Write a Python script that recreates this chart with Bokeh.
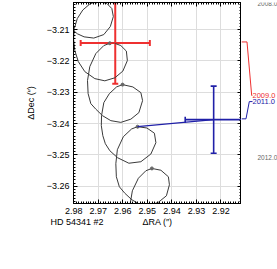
from bokeh.plotting import figure
from bokeh.layouts import row, column
from bokeh.models import (Range1d, LinearAxis, SingleIntervalTicker, CustomJSTickFormatter,
                          Whisker, ColumnDataSource, TeeHead)
from bokeh.core.properties import value
from bokeh.embed import file_html
from bokeh.resources import INLINE

# ---- data (arcsec) ----
track_ra = [2.98531, 2.98490, 2.98347, 2.98122, 2.97849, 2.97580, 2.97184, 2.96776, 2.96510, 2.96388,
            2.96449, 2.96653, 2.96898, 2.97102,
            2.97347, 2.97633, 2.97857, 2.97980, 2.98008, 2.97959, 2.97816, 2.97551, 2.97143, 2.96735,
            2.96327, 2.96000, 2.95816, 2.95857, 2.96082, 2.96327, 2.96531,
            2.96776, 2.97102, 2.97347, 2.97441, 2.97416, 2.97306, 2.97102, 2.96829, 2.96490, 2.96082,
            2.95673, 2.95347, 2.95196, 2.95265, 2.95592, 2.96012,
            2.96257, 2.96551, 2.96776, 2.96869, 2.96878, 2.96816, 2.96714, 2.96531, 2.96216, 2.95755,
            2.95265, 2.94857, 2.94653, 2.94714, 2.95020, 2.95400,
            2.95645, 2.95980, 2.96224, 2.96286, 2.96265, 2.96143, 2.95918, 2.95633, 2.95306, 2.94939,
            2.94551, 2.94224, 2.94102, 2.94143, 2.94449, 2.94816,
            2.95061, 2.95367, 2.95612, 2.95694, 2.95694]
track_dec = [-3.20074, -3.20393, -3.20712, -3.20968, -3.21137, -3.21233, -3.21272, -3.21160, -3.20904, -3.20585,
             -3.20329, -3.20169, -3.20115, -3.20112,
             -3.20185, -3.20377, -3.20649, -3.20968, -3.21304, -3.21671, -3.22022, -3.22342, -3.22566, -3.22636,
             -3.22540, -3.22326, -3.21990, -3.21687, -3.21511, -3.21441, -3.21438,
             -3.21511, -3.21767, -3.22182, -3.22629, -3.23045, -3.23364, -3.23540, -3.23748, -3.23907, -3.23962,
             -3.23859, -3.23652, -3.23268, -3.23013, -3.22831, -3.22757,
             -3.22831, -3.23045, -3.23332, -3.23748, -3.24067, -3.24387, -3.24642, -3.24866, -3.25089, -3.25265,
             -3.25217, -3.24971, -3.24610, -3.24307, -3.24141, -3.24099,
             -3.24173, -3.24419, -3.24834, -3.25281, -3.25697, -3.26016, -3.26224, -3.26431, -3.26575, -3.26623,
             -3.26511, -3.26304, -3.25952, -3.25697, -3.25489, -3.25431,
             -3.25505, -3.25744, -3.26144, -3.26527, -3.26847]

epoch_names = ["2008.0", "2009.0", "2010.0", "2011.0", "2012.0"]
epoch_ra = [2.97102, 2.96531, 2.96012, 2.95400, 2.94816]
epoch_dec = [-3.20112, -3.21438, -3.22757, -3.24099, -3.25431]

obs_names = ["2009.0", "2011.0"]
obs_ra = [2.9631, 2.92298]
obs_dec = [-3.2143, -3.23875]
obs_ra_err = [0.0141, 0.0116]
obs_dec_err = [0.0130, 0.0107]
obs_label_dec = [-3.23291, -3.23502]

plain_names = ["2008.0", "2012.0"]
star_name = "HD 54341 #2"

# ---- styling ----
FONT = "Liberation Sans"
RED, BLUE, GREY = "#ee3030", "#2020a8", "#666666"
obs_colors = [RED, BLUE]
X0, X1 = 2.98012, 2.91163
Y0, Y1 = -3.2655, -3.20137
FL, FW, FR = 73, 168, 36          # left border, frame width, right strip
FT, FH, FB, CB = 2, 201, 15, 14   # top border, frame height, bottom border, caption strip
kx = (X0 - X1) / FW
ky = (Y1 - Y0) / FH

p = figure(width=FL + FW, height=FT + FH + FB, x_range=Range1d(X0, X1), y_range=Range1d(Y0, Y1),
           output_backend="svg", toolbar_location=None,
           min_border_left=FL, min_border_right=0, min_border_top=FT, min_border_bottom=FB)
p.background_fill_color = "white"
p.border_fill_color = "white"
p.outline_line_color = "black"

xt = SingleIntervalTicker(interval=0.01, num_minor_ticks=10)
yt = SingleIntervalTicker(interval=0.01, num_minor_ticks=10)
fmt = CustomJSTickFormatter(code="return tick.toFixed(2).replace('-', '\u2212');")
blank = CustomJSTickFormatter(code="return '';")

def style_axis(ax):
    ax.axis_line_color = "black"
    ax.major_tick_in = 4
    ax.major_tick_out = 0
    ax.minor_tick_in = 2
    ax.minor_tick_out = 0
    ax.major_tick_line_color = "black"
    ax.minor_tick_line_color = "black"
    ax.major_label_text_font = FONT
    ax.major_label_text_font_size = "9px"
    ax.major_label_text_color = "black"
    ax.axis_label_text_font = FONT
    ax.axis_label_text_font_size = "9px"
    ax.axis_label_text_font_style = "normal"
    ax.axis_label_text_color = "black"

xa = p.xaxis[0]
xa.ticker = xt
xa.formatter = fmt
xa.major_label_standoff = 4
style_axis(xa)

ya = p.yaxis[0]
ya.ticker = yt
ya.formatter = fmt
ya.axis_label = "\u0394Dec (\u2033)"
ya.major_label_standoff = 4
ya.axis_label_standoff = 8
style_axis(ya)

for loc, tk in (("right", yt), ("above", xt)):
    ax = LinearAxis(ticker=tk, formatter=blank, major_label_standoff=0)
    style_axis(ax)
    ax.major_label_text_font_size = "0px"
    p.add_layout(ax, loc)

p.xgrid.ticker = xt
p.ygrid.ticker = yt
p.grid.grid_line_color = "#dddddd"
p.grid.grid_line_width = 1

# model track and yearly epochs
p.line(track_ra, track_dec, line_color="#3a3a3a", line_width=1)
p.scatter(epoch_ra, epoch_dec, size=3, color=GREY)

# observations with error bars, joined to the predicted epoch position
for i in range(len(obs_names)):
    c = obs_colors[i]
    lw = 2 if i == 0 else 1.6
    k = epoch_names.index(obs_names[i])
    p.segment(x0=[epoch_ra[k]], y0=[epoch_dec[k]], x1=[obs_ra[i]], y1=[obs_dec[i]],
              line_color=c, line_width=1.2)
    src = ColumnDataSource(dict(x=[obs_ra[i]], y=[obs_dec[i]],
                                xl=[obs_ra[i] - obs_ra_err[i]], xu=[obs_ra[i] + obs_ra_err[i]],
                                yl=[obs_dec[i] - obs_dec_err[i]], yu=[obs_dec[i] + obs_dec_err[i]]))
    for base, lo, up, dim in (("x", "yl", "yu", "height"), ("y", "xl", "xu", "width")):
        p.add_layout(Whisker(source=src, base=base, lower=lo, upper=up, dimension=dim,
                             line_color=c, line_width=lw,
                             upper_head=TeeHead(size=6, line_color=c, line_width=lw),
                             lower_head=TeeHead(size=6, line_color=c, line_width=lw)))

# ---- right strip: epoch labels and connectors (same y scale as the main frame) ----
q = figure(width=FR, height=FT + FH + FB, x_range=Range1d(X1, X1 - FR * kx),
           y_range=Range1d(Y0 - FB * ky, Y1 + FT * ky), output_backend="svg", toolbar_location=None,
           x_axis_type=None, y_axis_type=None,
           min_border_left=0, min_border_right=0, min_border_top=0, min_border_bottom=0)
q.outline_line_color = None
q.background_fill_color = "white"
q.border_fill_color = "white"
q.grid.visible = False

conn_x = [[X1, X1 - 5.5 * kx, X1 - 10.2 * kx, X1 - 10.8 * kx],
          [X1, X1 - 4.5 * kx, X1 - 7.8 * kx, X1 - 11.0 * kx]]
for i, name in enumerate(obs_names):
    k = epoch_names.index(name)
    ys = epoch_dec[k]
    ye = obs_label_dec[i]
    q.line(conn_x[i], [ys, ys, ye, ye], line_color=obs_colors[i], line_width=1)
q.text(x=[X1 - 11.0 * kx] * len(obs_names), y=obs_label_dec, text=obs_names,
       text_color=obs_colors, text_font=value(FONT), text_font_size=value("7.5px"),
       text_baseline="middle", text_align="left")
q.text(x=[X1 - 16.0 * kx] * len(plain_names),
       y=[epoch_dec[epoch_names.index(n)] for n in plain_names], text=plain_names,
       text_color=GREY, text_font=value(FONT), text_font_size=value("6.5px"),
       text_baseline="middle", text_align="left")

# ---- caption strip: star name and x-axis title ----
r = figure(width=FL + FW + FR, height=CB, x_range=Range1d(X0 + FL * kx, X1 - FR * kx),
           y_range=Range1d(Y0 - (FB + CB) * ky, Y0 - FB * ky), output_backend="svg",
           toolbar_location=None, x_axis_type=None, y_axis_type=None,
           min_border_left=0, min_border_right=0, min_border_top=0, min_border_bottom=0)
r.outline_line_color = None
r.background_fill_color = "white"
r.border_fill_color = "white"
r.grid.visible = False
cap_y = Y0 - (FB + 3.7) * ky
r.text(x=[X0 + 23 * kx], y=[cap_y], text=[star_name], text_color="black",
       text_font=value(FONT), text_font_size=value("9px"), text_baseline="middle", text_align="left")
r.text(x=[(X0 + X1) / 2], y=[cap_y], text=["\u0394RA (\u2033)"], text_color="black",
       text_font=value(FONT), text_font_size=value("9px"), text_baseline="middle", text_align="center")

layout = column(row(p, q, spacing=0), r, spacing=0)
open("out.html", "w").write(file_html(layout, INLINE))
